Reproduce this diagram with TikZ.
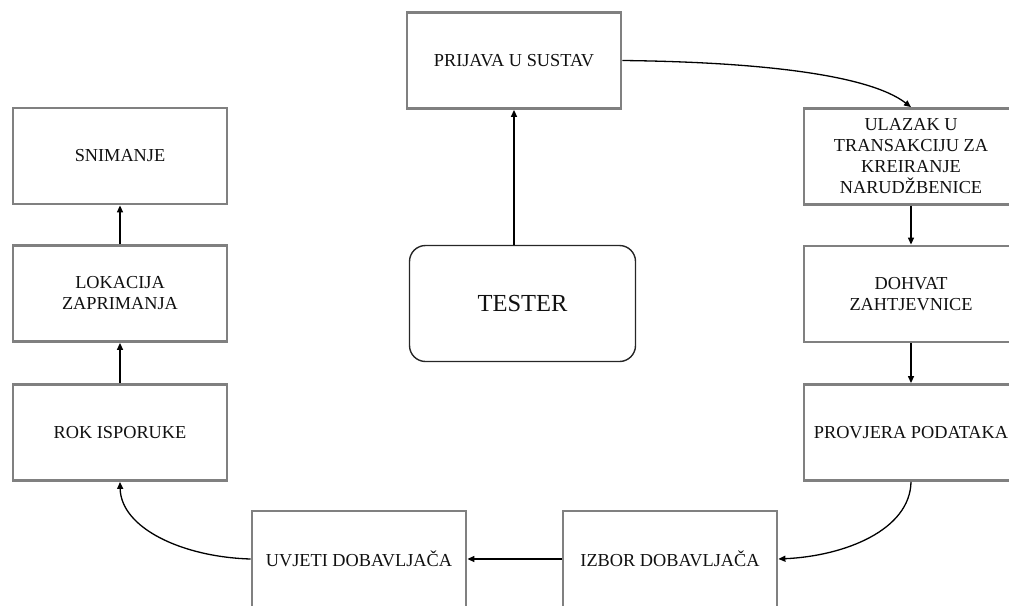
\documentclass[tikz,border=0pt]{standalone}
\usepackage{fontspec}
\setmainfont{Liberation Serif}
\usetikzlibrary{arrows.meta}
\definecolor{boxgray}{HTML}{808080}
\definecolor{txt}{HTML}{111111}
\tikzset{
  stepbox/.style={draw=boxgray, line width=2.8pt, fill=white, minimum width=214pt, minimum height=96pt,
    inner sep=2pt, align=center, text=txt, font=\fontsize{18.3}{21}\selectfont},
  testerbox/.style={draw=black!85, line width=1.4pt, rounded corners=16pt, minimum width=226pt, minimum height=116pt,
    align=center, text=txt, font=\fontsize{24.5}{28}\selectfont},
  conn/.style={draw=black, line width=1.3pt, -{Triangle[length=7pt,width=6pt]}}
}
\begin{document}
\begin{tikzpicture}[x=1pt,y=-1pt]
\useasboundingbox (0,0) rectangle (1009,605);
\node[stepbox] (prijava) at (514,60.5) {PRIJAVA U SUSTAV};
\node[stepbox] (ulazak) at (911,156.5) {ULAZAK U\\TRANSAKCIJU ZA\\KREIRANJE\\NARUDŽBENICE};
\node[stepbox] (dohvat) at (911,294) {DOHVAT\\ZAHTJEVNICE};
\node[stepbox] (provjera) at (911,432.5) {PROVJERA PODATAKA};
\node[stepbox] (izbor) at (670,559) {IZBOR DOBAVLJAČA};
\node[stepbox] (uvjeti) at (359,559) {UVJETI DOBAVLJAČA};
\node[stepbox] (rok) at (120,432.5) {ROK ISPORUKE};
\node[stepbox] (lokacija) at (120,293.5) {LOKACIJA\\ZAPRIMANJA};
\node[stepbox] (snimanje) at (120,156) {SNIMANJE};
\node[testerbox] (tester) at (522.5,303.5) {TESTER};

\draw[conn] (tester.north -| prijava.south) -- (prijava.south);
\draw[conn] (prijava.east) .. controls (755,62) and (868,74) .. (ulazak.north);
\draw[conn] (ulazak.south) -- (dohvat.north);
\draw[conn] (dohvat.south) -- (provjera.north);
\draw[conn] (provjera.south) .. controls (910,530) and (845,556) .. (izbor.east);
\draw[conn] (izbor.west) -- (uvjeti.east);
\draw[conn] (uvjeti.west) .. controls (182,557) and (121,528) .. (rok.south);
\draw[conn] (rok.north) -- (lokacija.south);
\draw[conn] (lokacija.north) -- (snimanje.south);
\end{tikzpicture}
\end{document}
